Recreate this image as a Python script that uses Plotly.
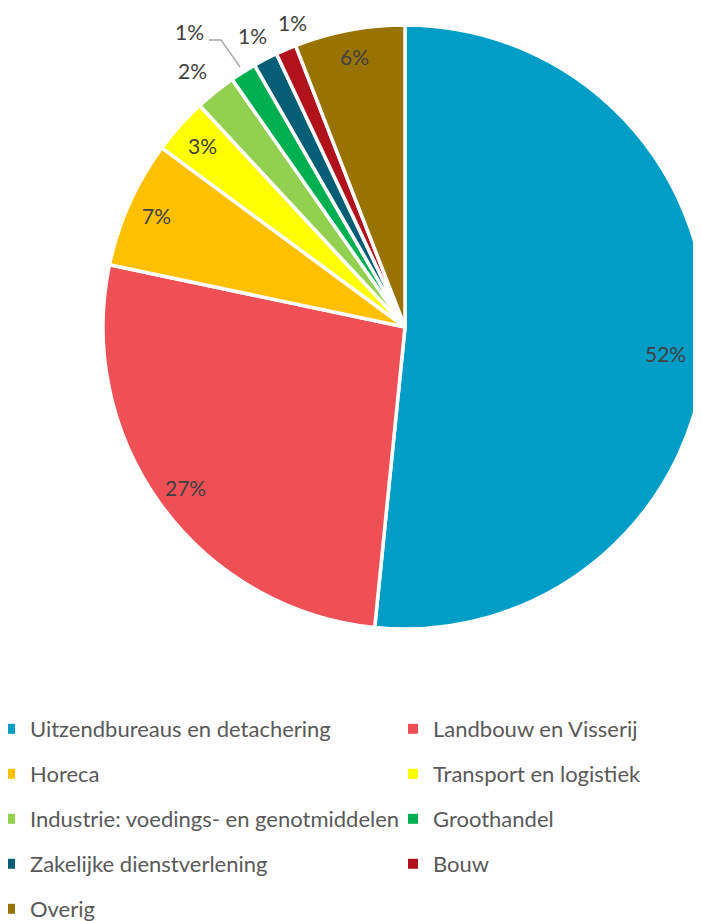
import math
import plotly.graph_objects as go

# ---------------- data ----------------
categories = [
    "Uitzendbureaus en detachering",
    "Landbouw en Visserij",
    "Horeca",
    "Transport en logistiek",
    "Industrie: voedings- en genotmiddelen",
    "Groothandel",
    "Zakelijke dienstverlening",
    "Bouw",
    "Overig",
]
shares = [51.6, 26.7, 6.8, 3.0, 2.2, 1.4, 1.3, 1.1, 5.9]
colors = ["#009DC6", "#EF5056", "#FFC000", "#FFFF00", "#92D050",
          "#00B050", "#035E76", "#B1121B", "#987300"]

# ---------------- geometry / style ----------------
W, H = 701, 921
OFF = 8                      # page body margin offset in the browser
CX, CY, R = 405, 327, 302    # window pixel coordinates
FONT = "Lato"

# label radius (fraction of R); None = callout
label_r = [0.87, 0.90, 0.90, 0.90, 1.10, None, 1.09, 1.09, 0.91]
label_nudge = {0: (-2, 13), 4: (-4, 2), 7: (17, -2)}


def px(x, y):
    return (x - OFF) / W, 1 - (y - OFF) / H


fig = go.Figure()
x0, y0 = px(CX - R, CY + R)
x1, y1 = px(CX + R, CY - R)
fig.add_trace(go.Pie(
    labels=categories, values=shares, sort=False, direction="clockwise",
    rotation=0, textinfo="none", showlegend=False,
    marker=dict(colors=colors, line=dict(color="white", width=3.5)),
    domain=dict(x=[x0, x1], y=[y0, y1]),
    hoverinfo="label+percent",
))

total = sum(shares)
annotations = []
shapes = []
cum = 0.0
for i, v in enumerate(shares):
    mid = (cum + v / 2) / total * 2 * math.pi
    cum += v
    txt = f"{round(100 * v / total)}%"
    s, c = math.sin(mid), math.cos(mid)
    if label_r[i] is None:
        ax_, ay_ = CX + 1.02 * R * s, CY - 1.02 * R * c
        ex, ey = ax_ - 19, ay_ - 27
        sx, sy = ex - 12, ey
        lx, ly = sx - 19, sy - 8
        p = [px(ax_, ay_), px(ex, ey), px(sx, sy)]
        shapes.append(dict(type="path", xref="paper", yref="paper",
                           path=f"M {p[0][0]},{p[0][1]} L {p[1][0]},{p[1][1]} L {p[2][0]},{p[2][1]}",
                           line=dict(color="#A6A6A6", width=1.5)))
    else:
        lx, ly = CX + label_r[i] * R * s, CY - label_r[i] * R * c
        dx, dy = label_nudge.get(i, (0, 0))
        lx, ly = lx + dx, ly + dy
    X, Y = px(lx, ly)
    annotations.append(dict(x=X, y=Y, xref="paper", yref="paper", text=txt,
                            showarrow=False, xanchor="center", yanchor="middle",
                            font=dict(family=FONT, size=21, color="#404040")))

# legend entries (two columns)
for i, cat in enumerate(categories):
    fig.add_trace(go.Scatter(
        x=[None], y=[None], mode="markers", name=cat,
        marker=dict(symbol="square", size=10, color=colors[i]),
        legend="legend" if i % 2 == 0 else "legend2",
        legendgroup=cat, showlegend=True, hoverinfo="skip",
    ))

leg_common = dict(orientation="v", xanchor="left", yanchor="top",
                  font=dict(family=FONT, size=22, color="#595959"),
                  tracegroupgap=13.4, bgcolor="rgba(0,0,0,0)", borderwidth=0,
                  itemclick=False, itemdoubleclick=False)
lx1, ly_top = px(-10, 708)
lx2, _ = px(393, 708)
fig.update_layout(
    width=W, height=H,
    margin=dict(l=0, r=0, t=0, b=0, autoexpand=False),
    paper_bgcolor="white", plot_bgcolor="white",
    xaxis=dict(visible=False), yaxis=dict(visible=False),
    legend=dict(x=lx1, y=ly_top, **leg_common),
    legend2=dict(x=lx2, y=ly_top, **leg_common),
    annotations=annotations, shapes=shapes,
    showlegend=True,
)

fig.write_html("out.html")
